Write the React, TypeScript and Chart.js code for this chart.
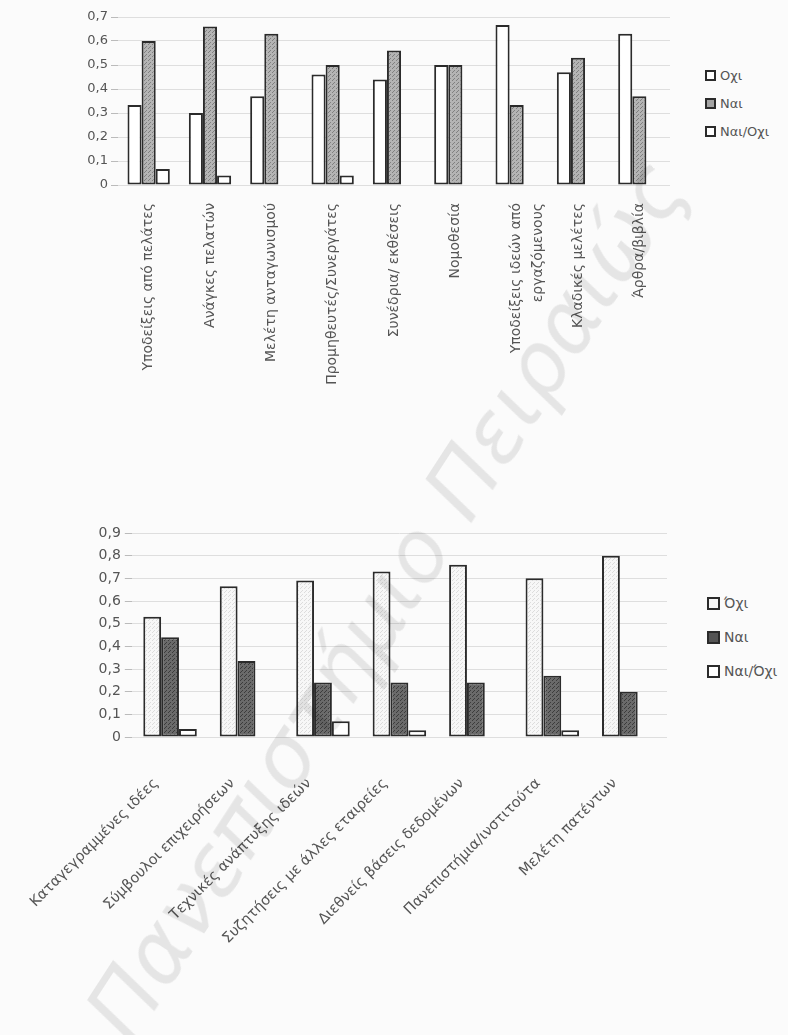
import React, { useEffect, useRef } from "react";
import { Chart, registerables } from "chart.js";

Chart.register(...registerables);

// ---------- Top chart data ----------
const topCategories: (string | string[])[] = [
  "Υποδείξεις από πελάτες",
  "Ανάγκες πελατών",
  "Μελέτη ανταγωνισμού",
  "Προμηθευτές/Συνεργάτες",
  "Συνέδρια/ εκθέσεις",
  "Νομοθεσία",
  ["Υποδείξεις ιδεών από", "εργαζόμενους"],
  "Κλαδικές μελέτες",
  "Άρθρα/βιβλία",
];
const topNo = [0.333, 0.3, 0.37, 0.46, 0.44, 0.5, 0.667, 0.47, 0.63];
const topYes = [0.6, 0.66, 0.63, 0.5, 0.56, 0.5, 0.333, 0.53, 0.37];
const topYesNo = [0.067, 0.04, 0, 0.04, 0, 0, 0, 0, 0];
const topSeriesNames = ["Οχι", "Ναι", "Ναι/Οχι"];
const topTicks = ["0", "0,1", "0,2", "0,3", "0,4", "0,5", "0,6", "0,7"];

// ---------- Bottom chart data ----------
const bottomCategories = [
  "Καταγεγραμμένες ιδέες",
  "Σύμβουλοι επιχειρήσεων",
  "Τεχνικές ανάπτυξης ιδεών",
  "Συζητήσεις με άλλες εταιρείες",
  "Διεθνείς βάσεις δεδομένων",
  "Πανεπιστήμια/ινστιτούτα",
  "Μελέτη πατέντων",
];
const bottomNo = [0.53, 0.665, 0.69, 0.73, 0.76, 0.7, 0.8];
const bottomYes = [0.44, 0.335, 0.24, 0.24, 0.24, 0.27, 0.2];
const bottomYesNo = [0.035, 0, 0.07, 0.03, 0, 0.03, 0];
const bottomSeriesNames = ["Όχι", "Ναι", "Ναι/Όχι"];
const bottomTicks = ["0", "0,1", "0,2", "0,3", "0,4", "0,5", "0,6", "0,7", "0,8", "0,9"];

const FONT = "'DejaVu Sans', sans-serif";
const TEXT = "#555555";
const GRID = "#dedede";
const EDGE = "#2b2b2b";

function makePattern(base: string, dot: string): CanvasPattern | string {
  const c = document.createElement("canvas");
  c.width = 4;
  c.height = 4;
  const ctx = c.getContext("2d");
  if (!ctx) return base;
  ctx.fillStyle = base;
  ctx.fillRect(0, 0, 4, 4);
  ctx.fillStyle = dot;
  ctx.fillRect(0, 0, 1, 1);
  ctx.fillRect(2, 2, 1, 1);
  ctx.fillRect(1, 3, 1, 1);
  const p = ctx.createPattern(c, "repeat");
  return p || base;
}

function TopChart() {
  const ref = useRef<HTMLCanvasElement | null>(null);
  useEffect(() => {
    if (!ref.current) return;
    const yesFill = makePattern("#b4b4b4", "#808080");
    const chart = new Chart(ref.current, {
      type: "bar",
      data: {
        labels: topCategories,
        datasets: [
          { label: topSeriesNames[0], data: topNo, backgroundColor: "#ffffff", borderColor: EDGE, borderWidth: 2, borderSkipped: false },
          { label: topSeriesNames[1], data: topYes, backgroundColor: yesFill as any, borderColor: EDGE, borderWidth: 2, borderSkipped: false },
          { label: topSeriesNames[2], data: topYesNo, backgroundColor: "#ffffff", borderColor: EDGE, borderWidth: 2, borderSkipped: false },
        ],
      },
      options: {
        responsive: false,
        animation: false,
        layout: { padding: { top: 17, right: 20, left: 0, bottom: 0 } },
        plugins: { legend: { display: false }, tooltip: { enabled: false } },
        datasets: { bar: { categoryPercentage: 0.69, barPercentage: 1 } },
        scales: {
          x: {
            grid: { display: false, drawTicks: false },
            border: { display: false },
            ticks: {
              minRotation: 90,
              maxRotation: 90,
              padding: 18,
              color: TEXT,
              font: { family: FONT, size: 14, lineHeight: 1.55 },
              autoSkip: false,
            },
            afterFit: (s: any) => {
              s.height = 215;
            },
          },
          y: {
            min: 0,
            max: 0.7,
            grid: { color: GRID, tickLength: 7, tickColor: "#bbbbbb" },
            border: { display: false },
            ticks: {
              stepSize: 0.1,
              padding: 3,
              color: TEXT,
              font: { family: FONT, size: 13 },
              callback: (_v: any, i: number) => topTicks[i],
            },
            afterFit: (s: any) => {
              s.width = 118;
            },
          },
        },
      },
    });
    return () => chart.destroy();
  }, []);
  return <canvas ref={ref} width={690} height={400} style={{ position: "absolute", left: 0, top: 0 }} />;
}

function BottomChart() {
  const ref = useRef<HTMLCanvasElement | null>(null);
  useEffect(() => {
    if (!ref.current) return;
    const yesFill = makePattern("#6a6a6a", "#3c3c3c");
    const noFill = makePattern("#f7f7f7", "#dcdcdc");
    const chart = new Chart(ref.current, {
      type: "bar",
      data: {
        labels: bottomCategories,
        datasets: [
          { label: bottomSeriesNames[0], data: bottomNo, backgroundColor: noFill as any, borderColor: EDGE, borderWidth: 2, borderSkipped: false },
          { label: bottomSeriesNames[1], data: bottomYes, backgroundColor: yesFill as any, borderColor: EDGE, borderWidth: 2, borderSkipped: false },
          { label: bottomSeriesNames[2], data: bottomYesNo, backgroundColor: "#ffffff", borderColor: EDGE, borderWidth: 2, borderSkipped: false },
        ],
      },
      options: {
        responsive: false,
        animation: false,
        layout: { padding: { top: 33, right: 23, left: 0, bottom: 0 } },
        plugins: { legend: { display: false }, tooltip: { enabled: false } },
        datasets: { bar: { categoryPercentage: 0.7, barPercentage: 1 } },
        scales: {
          x: {
            grid: { display: false, drawTicks: false },
            border: { display: false },
            ticks: {
              minRotation: 45,
              maxRotation: 45,
              padding: 38,
              labelOffset: -14,
              color: TEXT,
              font: { family: FONT, size: 14.5 },
              autoSkip: false,
            },
            afterFit: (s: any) => {
              s.height = 213;
            },
          },
          y: {
            min: 0,
            max: 0.9,
            grid: { color: GRID, tickLength: 7, tickColor: "#bbbbbb" },
            border: { display: false },
            ticks: {
              stepSize: 0.1,
              padding: 4,
              color: TEXT,
              font: { family: FONT, size: 14 },
              callback: (_v: any, i: number) => bottomTicks[i],
            },
            afterFit: (s: any) => {
              s.width = 122;
            },
          },
        },
      },
    });
    return () => chart.destroy();
  }, []);
  return <canvas ref={ref} width={690} height={450} style={{ position: "absolute", left: 0, top: 500 }} />;
}

function Legend(props: { names: string[]; left: number; top: number; gap: number; box: number; size: number; fills: string[] }) {
  const { names, left, top, gap, box, size, fills } = props;
  return (
    <div style={{ position: "absolute", left, top, fontFamily: FONT, fontSize: size, color: TEXT }}>
      {names.map((n, i) => (
        <div key={n} style={{ position: "absolute", left: 0, top: i * gap - size / 2 - 2, whiteSpace: "nowrap", display: "flex", alignItems: "center", height: size + 4 }}>
          <span style={{ display: "inline-block", width: box, height: box, boxSizing: "border-box", border: `2px solid ${EDGE}`, background: fills[i], marginRight: 4 }} />
          <span>{n}</span>
        </div>
      ))}
    </div>
  );
}

export default function App() {
  return (
    <div style={{ position: "fixed", left: 0, top: 0, width: 788, height: 1035, background: "#fbfbfb", overflow: "hidden" }}>
      <TopChart />
      <BottomChart />
      <Legend names={topSeriesNames} left={705} top={75} gap={28} box={11} size={13} fills={["#ffffff", "#a4a4a4", "#ffffff"]} />
      <Legend names={bottomSeriesNames} left={707} top={603} gap={34} box={13} size={14} fills={["#f7f7f7", "#555555", "#ffffff"]} />
      <div
        style={{
          position: "absolute",
          left: 385,
          top: 600,
          transform: "translate(-50%, -50%) rotate(-57deg)",
          fontFamily: "'DejaVu Sans', sans-serif",
          fontStyle: "italic",
          fontWeight: 400,
          fontSize: 86,
          color: "rgba(0,0,0,0.085)",
          whiteSpace: "nowrap",
          pointerEvents: "none",
        }}
      >
        Πανεπιστήμιο Πειραιώς
      </div>
    </div>
  );
}
